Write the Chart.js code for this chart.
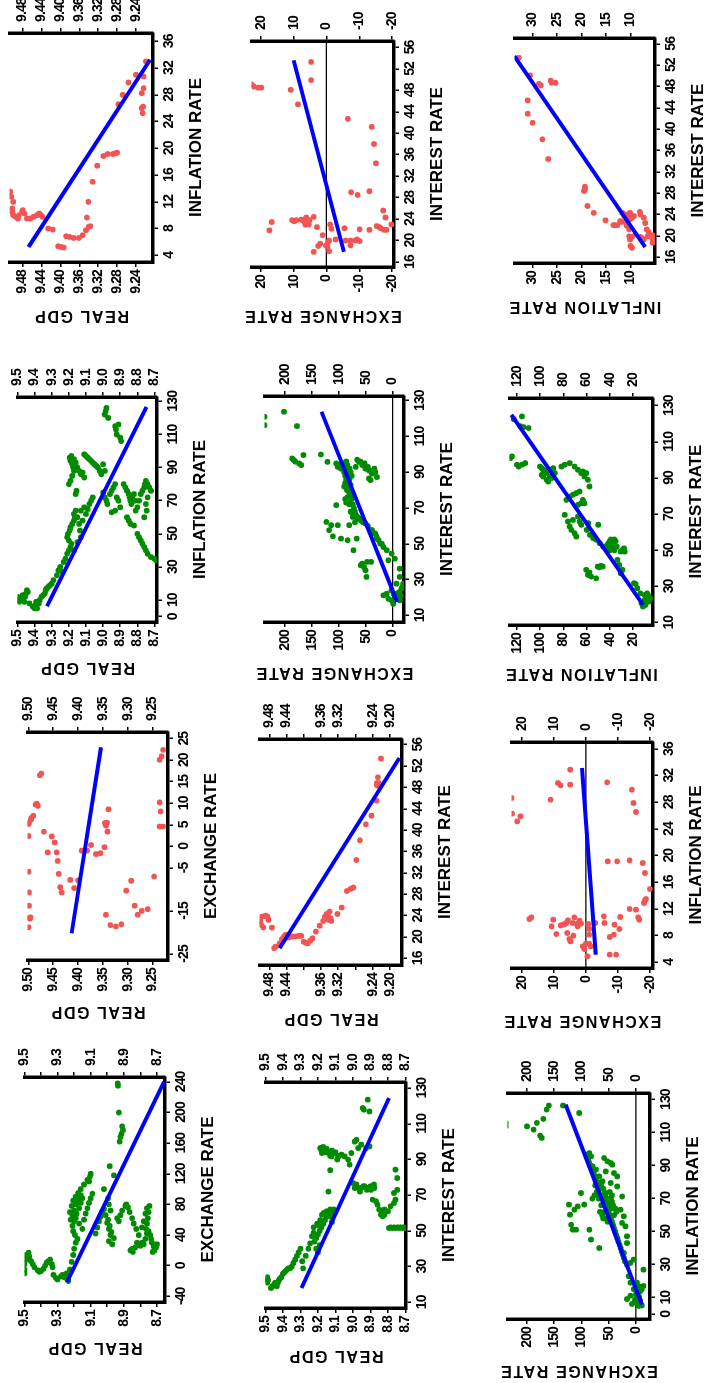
<!DOCTYPE html>
<html>
<head>
<meta charset="utf-8">
<script src="https://cdn.jsdelivr.net/npm/chart.js@4.4.1/dist/chart.umd.min.js"></script>
<style>
  html, body { margin: 0; padding: 0; background: #fff; overflow: hidden; }
  #page { position: absolute; left: 0; top: 0; width: 1383px; height: 707px;
          transform-origin: 0 0; transform: translateY(1383px) rotate(-90deg); background: #fff; }
  #page canvas { position: absolute; }
</style>
</head>
<body>
<div id="page"></div>
<script>
// ---- data: [x, y] pairs per panel ----

// real GDP vs exchange rate (long sample)
const gdpExrLong = [[-10,9.5],[-5,9.5],[2,9.5],[8,9.49],[14,9.49],[17,9.475],[12,9.47],[6,9.46],[2,9.45],[-2,9.44],[-6,9.42],[-8,9.41],[-7,9.40],[-4,9.385],[0,9.375],[4,9.365],[6,9.355],[8,9.345],[2,9.335],[-2,9.33],[-12,9.325],[-16,9.31],[-18,9.30],[-14,9.28],[-12,9.27],[-15,9.26],[-10,9.245],[-20,9.235],[-18,9.24],
  [-5,9.225],[5,9.215],[14,9.205],[22,9.2],[30,9.19],[35,9.18],[40,9.195],[45,9.205],[52,9.21],[58,9.2],[62,9.19],[68,9.185],[75,9.17],[82,9.16],[88,9.15],[92,9.16],[86,9.175],[80,9.19],[72,9.2],[66,9.21],[60,9.22],[70,9.225],[78,9.215],[85,9.205],[90,9.19],[95,9.175],[100,9.16],[106,9.14],[112,9.12],[116,9.105],[120,9.1],[110,9.11],[55,9.17],[48,9.15],[60,9.14],[68,9.13],[75,9.12],[82,9.11],[88,9.10],[94,9.09],
  [42,9.07],[50,9.06],[58,9.05],[64,9.04],[70,9.03],[74,9.02],[66,9.01],[56,9.0],[48,8.99],[40,8.98],[32,8.99],[28,8.97],[36,8.96],[44,8.975],[52,8.985],[60,8.995],[72,8.98],[80,8.99],[88,8.995],[100,9.02],[118,8.96],[130,8.985],
  [162,8.925],[168,8.92],[172,8.915],[177,8.905],[182,8.91],[200,8.93],[235,8.935],[238,8.937],
  [62,8.94],[58,8.93],[66,8.92],[72,8.91],[78,8.89],[80,8.885],[76,8.875],[70,8.865],[62,8.85],[55,8.84],[48,8.825],[40,8.81],[30,8.82],[24,8.83],[18,8.845],[20,8.86],[22,8.85],[26,8.8],[30,8.79],[28,8.78],[35,8.77],[42,8.76],[48,8.765],[55,8.76],[62,8.755],[70,8.75],[78,8.745],[75,8.76],[68,8.77],[58,8.78],[50,8.79],[45,8.75],[40,8.74],[35,8.735],[30,8.73],[25,8.72],[20,8.715],[18,8.725],[24,8.705],[28,8.7]];
const gdpExrLongFitX = [-21.3, 240];
const gdpExrLongFitY = [9.243, 8.657];

// real GDP vs exchange rate (short sample)
const gdpExrShort = [[-18.8,9.50],[-16.6,9.499],[-16.8,9.497],[-16.5,9.496],[-13.8,9.499],[-10.7,9.499],[-5.9,9.50],[2.4,9.50],[5.2,9.50],[5.5,9.499],[6.2,9.495],[6.6,9.494],[7.1,9.49],[9.7,9.4855],[9.9,9.483],[9.4,9.481],[16.5,9.477],[16.9,9.474],[3.4,9.469],[-1.4,9.461],[2.3,9.453],[0.9,9.447],[-1.4,9.443],[-3.4,9.441],[-6.4,9.439],[-9.5,9.436],[-10.7,9.433],[-7.8,9.416],[-9.7,9.408],[-7.9,9.40],[-1.0,9.393],[-1.0,9.382],[0.3,9.374],[-1.8,9.364],[-1.6,9.355],[-0.2,9.347],[4.8,9.344],[5.4,9.346],[5.5,9.342],[3.4,9.341],[8.6,9.339],[-15.9,9.344],[-18.3,9.335],[-18.6,9.324],[-18.1,9.313],[-10.3,9.303],[-8.0,9.293],[-13.8,9.286],[-15.9,9.28],[-15.0,9.272],[-14.6,9.26],[-7.0,9.247],[4.6,9.236],[4.6,9.229],[8.1,9.234],[10.2,9.236],[20.1,9.236],[20.9,9.232],[22.4,9.229]];
const gdpExrShortFitX = [-20.2, 23.0];
const gdpExrShortFitY = [9.413, 9.354];

// real GDP vs inflation rate (long sample)
const gdpInfLong = [[10,9.5],[12,9.5],[9,9.49],[11,9.48],[13,9.47],[9,9.46],[12,9.455],[14,9.45],[16,9.445],[15,9.44],[8,9.43],[6,9.41],[5,9.40],[7,9.395],[9,9.39],[5,9.385],[8,9.375],[10,9.37],[12,9.36],[13,9.35],[14,9.34],[16,9.335],[17,9.33],[18,9.32],[19,9.31],[20,9.30],[22,9.29],[25,9.27],[28,9.26],[30,9.25],[27,9.24],[33,9.23],[35,9.22],[38,9.21],[40,9.2],[42,9.19],[44,9.185],[46,9.2],[48,9.21],[50,9.205],[52,9.195],[54,9.19],[56,9.18],[58,9.17],[60,9.165],[62,9.17],[64,9.16],[60,9.15],[56,9.14],[52,9.135],[48,9.13],[45,9.15],[40,9.17],[58,9.12],[62,9.10],[65,9.09],[68,9.08],[70,9.07],[72,9.06],[66,9.11],[64,9.13],
  [80,9.2],[82,9.19],[85,9.18],[88,9.17],[90,9.175],[92,9.18],[94,9.19],[96,9.195],[97,9.185],[95,9.17],[93,9.16],[90,9.15],[88,9.14],[86,9.13],[87,9.12],[84,9.11],[76,9.155],[74,9.16],
  [98,9.11],[97,9.10],[96,9.09],[95,9.08],[94,9.07],[93,9.06],[92,9.05],[91,9.04],[90,9.03],[88,9.02],[86,9.01],[92,9.0],[88,8.99],
  [75,9.0],[72,8.99],[70,8.98],[68,8.975],[74,8.96],[76,8.95],[78,8.94],[80,8.93],[72,8.92],[70,8.91],[66,8.90],[64,8.93],[63,8.95],
  [122,8.99],[124,8.985],[126,8.98],[120,8.97],[115,8.93],[113,8.925],[110,8.92],[108,8.9],[106,8.895],[116,8.91],
  [80,8.88],[78,8.87],[76,8.86],[74,8.85],[72,8.845],[70,8.84],[68,8.835],[72,8.83],[74,8.82],[70,8.815],[60,8.86],[58,8.85],[56,8.84],[55,8.82],[64,8.81],[66,8.80],[70,8.79],[74,8.78],[76,8.77],[78,8.76],[80,8.755],[82,8.75],[80,8.74],[78,8.73],[76,8.72],[72,8.74],[68,8.75],[64,8.745],[60,8.76],[50,8.8],[48,8.79],[46,8.78],[44,8.77],[42,8.76],[40,8.75],[38,8.74],[36,8.72],[35,8.70],[34,8.69]];
const gdpInfLongFitX = [6.3, 126.6];
const gdpInfLongFitY = [9.327, 8.746];

// real GDP vs inflation rate (short sample)
const gdpInfShort = [[13.5,9.506],[12.75,9.504],[12.0,9.50],[11.0,9.502],[10.5,9.502],[10.0,9.50],[9.75,9.495],[9.5,9.49],[10.0,9.488],[10.5,9.481],[10.75,9.48],[10.25,9.476],[9.5,9.471],[9.5,9.464],[9.75,9.457],[10.0,9.45],[10.25,9.445],[10.0,9.441],[9.75,9.438],[8.0,9.426],[7.85,9.416],[5.35,9.405],[5.25,9.398],[5.15,9.393],[6.85,9.388],[6.75,9.381],[6.6,9.372],[6.6,9.361],[7.0,9.353],[7.75,9.346],[9.65,9.344],[12.0,9.341],[8.25,9.34],[8.35,9.337],[15.0,9.332],[17.4,9.322],[18.85,9.309],[19.15,9.30],[19.15,9.289],[19.25,9.284],[19.35,9.28],[26.6,9.277],[28.0,9.268],[29.85,9.256],[31.0,9.24],[26.0,9.228],[25.25,9.226],[26.25,9.225],[28.25,9.228],[30.75,9.224],[29.0,9.224],[33.0,9.219]];
const gdpInfShortFitX = [5.25, 33.25];
const gdpInfShortFitY = [9.4675, 9.21];

// real GDP vs interest rate (long sample)
const gdpIntLong = [[22,9.50],[23,9.495],[24,9.49],[22.5,9.485],[21,9.49],
  [18,9.468],[19,9.46],[20,9.45],[21,9.445],[20,9.44],[19,9.435],[21,9.43],[22,9.425],[23,9.42],[24,9.41],[26,9.40],[27,9.39],[28,9.38],[29,9.37],[29,9.36],[30,9.35],[32,9.34],[34,9.33],[36,9.32],[38,9.31],[40,9.30],[33,9.29],[29,9.285],[36,9.27],[40,9.255],[43,9.245],[47,9.235],[49,9.225],[52,9.225],[54,9.205],[53,9.197],[56,9.187],[59,9.178],[60,9.168],[61,9.15],[72,9.14],[55,9.12],[84,9.13],[44,9.22],[46,9.21],[48,9.2],[50,9.19],[52,9.18],[38,9.2],[40,9.21],[42,9.19],[54,9.17],[56,9.16],[58,9.15],[60,9.14],[62,9.13],[60,9.12],[62,9.11],[58,9.13],
  [96.4,9.187],[93.6,9.178],[95.5,9.159],[93.6,9.14],[91.7,9.122],[93.6,9.103],[91.7,9.084],[92.7,9.066],[91.7,9.047],[89.9,9.028],[87.1,9.019],[93.6,9.009],[100,8.99],[101,8.98],[96.4,8.97],[98.3,8.953],[96.4,8.925],[97.3,8.906],[95,9.18],[97,9.17],[94,9.16],[96,9.15],[92,9.13],[95,9.12],[94,9.1],[90,9.09],[92,9.08],
  [118.8,8.944],[117.9,8.938],[123.5,8.916],[116.9,8.906],
  [76.8,9.0],[74,8.99],[74,8.97],[74,8.953],[75,8.934],[74,8.916],[73,8.897],[74,8.878],[67.5,8.888],[66.6,8.869],[64.7,8.86],[61.9,8.85],[59.1,8.84],[58.2,8.83],[59.1,8.82],[61,8.80],[63.8,8.785],[65.6,8.766],[67.5,8.757],[71.2,8.766],[73,8.747],[79.6,8.747],[84.3,8.757],[76,8.98],[72,8.96],[75,8.94],[73,8.92],[75,8.9],[76,8.88],[60,8.83],[62,8.82],
  [51.6,8.794],[51.6,8.775],[51.6,8.757],[51.6,8.738],[51.6,8.72],[51.6,8.70],[52,8.785],[52,8.765],[52,8.745],[52,8.728],[52,8.71]];
const gdpIntLongFitX = [18.0, 124.4];
const gdpIntLongFitY = [9.294, 8.794];

// real GDP vs interest rate (short sample)
const gdpIntShort = [[22.9,9.501],[22.25,9.499],[21.8,9.494],[23.8,9.497],[23.9,9.491],[24.0,9.488],[23.8,9.484],[23.2,9.482],[21.75,9.474],[17.9,9.469],[18.2,9.465],[18.8,9.456],[19.6,9.451],[20.1,9.446],[20.4,9.442],[20.1,9.438],[19.9,9.435],[20.1,9.427],[20.1,9.419],[20.2,9.412],[20.2,9.406],[19.1,9.40],[18.9,9.395],[18.8,9.391],[19.3,9.385],[19.75,9.38],[21.0,9.372],[22.1,9.363],[23.0,9.355],[23.8,9.351],[24.3,9.347],[23.9,9.344],[23.2,9.342],[23.5,9.338],[24.75,9.34],[23.0,9.336],[24.3,9.322],[25.5,9.312],[28.6,9.30],[29.0,9.291],[29.25,9.285],[34.4,9.278],[38.1,9.27],[41.1,9.256],[42.7,9.243],[45.5,9.231],[48.3,9.228],[48.5,9.231],[48.8,9.23],[48.8,9.226],[49.9,9.228],[53.4,9.221]];
const gdpIntShortFitX = [17.9, 53.5];
const gdpIntShortFitY = [9.456, 9.178];

// exchange rate vs interest rate (long sample)
const exrIntLong = [[121,238],[116.3,238],[123.8,201.8],[115.8,177.6],[97.7,186.7],[96.8,183.6],[95.9,180.6],[94.9,173.3],[94.0,169.7],[99.6,165.5],[99.9,133.3],[95.8,121],[94.9,104.8],[93.0,101.8],[94,98.8],[92,95.8],
  [90,90],[88,88],[86,86],[84,84],[82,82],[80,85],[78,80],[76,84],[74,82],[72,80],[73,86],[75,88],[77,78],[79,76],[81,80],[83,78],[85,82],[87,84],[89,86],[91,88],[93,92],[95,90],[96,86],[94,84],[92,80],[90,78],[88,76],[86,80],[84,88],[82,90],[75,76],[72,74],[70,72],[68,70],[66,68],[64,66],[62,70],[65,74],[68,78],
  [93,68.5],[95.8,62.4],[94,56.4],[92,50.3],[91,44],[89.2,38.2],[90.1,32],[87.3,29],[86.5,44],[85.6,41],[96,60],[97,66],[95,52],[93,46],[92,34],
  [62.2,123],[57.6,118],[60.4,114],[54.2,111],[60.4,101.8],[71.6,104.8],[52.9,95.8],[52,83.6],[60.4,80.6],[67.8,77.6],[46.4,72.7],[52.9,66.7],[38,59.4],[38.9,56.4],[37,53.3],[35.2,50.3],[31.5,48.5],[39.9,47.3],[39.9,40],
  [66,71.5],[63.2,59.4],[61.3,50.3],[57.6,38.2],[55.7,32],[52.9,29],[50.1,23],[48.2,17],[46.4,11],[40.8,7.9],[44.5,1.8],[58,42],[60,46],[56,36],[54,30],[52,26],[50,20],[62,55],[64,60],[65,65],
  [41.7,-4.2],[36.1,-13.3],[31.5,-13.3],[27.7,-7.3],[22.1,-7.3],[24.9,-16.4],[27.7,-19.4],[22.1,10.9],[21.2,17],[19.3,7.9],[18.4,1.8],[16.5,-1.2],[19.3,-10.3],[18.4,-13.3],[20,-5],[22,-2],[24,2],[23,-12],[21,-15],[26,-18]];
const exrIntLongFitX = [17.5, 123.8];
const exrIntLongFitY = [-8.5, 132];

// exchange rate vs interest rate (short sample)
const exrIntShort = [[49.1,22.9],[48.7,22.2],[48.5,20.9],[48.5,19.9],[21.9,17.4],[23.45,16.7],[48.1,10.9],[23.8,10.5],[23.6,9.9],[23.8,9.2],[23.9,7.7],[23.8,7.2],[23.5,6.7],[24.3,6.2],[23.5,5.9],[23.1,5.7],[23.0,5.4],[23.8,5.2],[22.95,6.4],[45.4,8.7],[53.3,4.7],[49.9,4.7],[24.4,3.9],[17.9,3.9],[22.5,2.9],[19.0,2.5],[19.4,1.9],[21.0,1.2],[19.1,0.2],[18.8,-0.3],[19.7,-0.5],[20.0,-0.8],[18.0,-0.8],[23.0,-1.1],[22.2,-1.5],[20.2,-2.8],[22.3,-5.5],[20.0,-5.8],[19.1,-7.3],[20.0,-7.3],[20.0,-8.8],[20.2,-9.3],[19.9,-10.1],[22.1,-10.1],[29.0,-7.5],[42.7,-6.5],[28.5,-9.5],[29.2,-13.1],[22.0,-13.1],[41.2,-13.8],[38.0,-14.5],[34.4,-15.1],[22.7,-15.3],[22.5,-16.1],[22.3,-16.5],[25.6,-17.3],[24.3,-18.0],[22.0,-17.5],[22.0,-18.3],[23.0,-19.8]];
const exrIntShortFitX = [17.9, 53.6];
const exrIntShortFitY = [-5.3, 10];

// exchange rate vs inflation rate (long sample)
const exrInfLong = [[113.8,239],[115.9,239],[113.8,200],[111.8,188],[115.9,182],[108.2,176],[106.8,173],[118.3,170],[124,164],[126.4,160],[126.4,134],[121.9,104],[66.4,123],[60.3,121],[54.2,119],[51.2,116],[63.3,113],[51.2,110],[65.3,107],[73.4,101],[66.4,95],[51.2,85.5],[45.2,82.5],[40.1,67.5],
  [96.7,92],[94.6,89],[97.6,85.5],[95.6,82.5],[89.6,79.5],[87.6,73.5],[83.5,67.5],[80.5,61.4],
  [78,75],[75,70],[72,66],[70,62],[68,58],[66,55],[64,52],[62,50],[60,48],[58,46],[56,44],[54,42],[52,40],[50,38],[48,36],[46,34],[44,32],[42,30],[40,28],[38,26],[36,24],[34,22],[32,20],[70,80],[72,76],[74,72],[76,68],[78,64],[80,70],[82,74],[84,76],[86,78],[88,80],[90,84],[92,86],[94,88],[62,58],[60,62],[58,56],[56,52],[64,46],[66,48],[68,50],[70,52],[72,56],[74,58],[76,60],[60,40],[62,36],[64,38],[66,42],[68,44],[70,46],[72,44],[74,48],[70,68],[66,64],[62,66],[58,60],
  [94.6,58.4],[92.6,52.4],[91.6,46.4],[90.6,43.4],[86.5,55.4],[85.5,40.4],[83.5,34.3],
  [79.5,46.4],[77.4,34.3],[71.3,25.3],[63.3,28.3],[59.3,22.3],[55.3,25.3],[53.2,19.3],[47.2,16.3],
  [30,16.3],[23,13.3],[19.1,10.2],[15.2,4.2],[13.2,-1.8],[11.2,-4.8],[8.2,-7.8],[5.3,-10.8],[9.2,1.2],[6.2,7.2],[9.2,16.3],[11.2,10.2],[19.1,-1.8],[17.1,-4.8],[15.2,-10.8],[17.1,-13.9],[27.0,-13.9],[33.1,4.2],[31.1,10.2],[43.1,16.3],[37.1,22.3],[7,-2],[8,2],[10,-6],[12,0],[14,-8],[5,-5]];
const exrInfLongFitX = [5.8, 127];
const exrInfLongFitY = [-10.8, 129];

// exchange rate vs inflation rate (short sample)
const exrInfShort = [[28.65,23.2],[26.3,23],[25.9,20.4],[25.15,21.4],[28.4,11.0],[30.9,8.7],[30.55,7.9],[32.9,4.9],[30.65,4.9],[31.0,-6.6],[29.9,-14.3],[27.9,-14.8],[26.55,-15.6],[10.5,17.6],[10.75,17.0],[9.4,10.7],[10.4,10.2],[8.25,9.2],[9.55,7.9],[9.65,7.1],[9.75,6.6],[9.9,6.1],[8.4,5.8],[10.3,5.6],[7.5,5.1],[7.15,4.8],[9.9,4.1],[8.0,3.9],[10.75,3.6],[9.75,2.8],[9.4,2.6],[10.25,2.0],[9.8,1.5],[6.4,1.0],[6.0,0.5],[6.8,0],[6.8,-1.0],[8.15,-1.0],[4.9,-0.5],[9.0,-1.0],[9.75,-0.7],[6.4,-1.5],[9.9,-2.9],[10.9,-5.6],[9.9,-5.8],[7.8,-7.4],[8.15,-8.7],[9.65,-8.9],[5.15,-7.4],[5.15,-9.4],[9.0,-10.4],[10.8,-10.7],[19.15,-6.8],[19.15,-9.7],[19.3,-13.6],[12.0,-13.6],[11.9,-15.6],[10.75,-16.3],[10.4,-16.6],[18.9,-17.7],[17.4,-18.4],[12.9,-18.1],[13.3,-18.4],[13.5,-18.7],[15.0,-19.9]];
const exrInfShortFitX = [5.15, 33.15];
const exrInfShortFitY = [-3.06, 1.2];

// inflation rate vs interest rate (long sample)
const infIntLong = [[20.7,12.8],[22.5,9.9],[24.4,8.5],[25.3,7.1],[21.6,6.3],[18.9,11.4],[19.8,9.2],[26.2,7.8],[23.5,5.0],[25.3,9.9],[26.2,13.6],[29.0,16.3],[31.4,17.7],[31.8,19.1],
  [34.5,51.8],[39.2,60.3],[36.4,58.9],[37.7,57.5],[35.5,56.1],[41,50.4],[40.6,49.0],[41.4,47.6],[41.0,46.1],
  [37.3,30.5],[41.9,31.9],[44.7,33.4],[39.2,29.1],[49.3,30.5],[50.2,29.1],[51.1,27.7],[49.3,27.1],
  [50,36],[51,38],[52,40],[53,42],[54,38],[55,40],[56,36],[52,34],[53,36],[54,41],[51,42],[55,35],[56,39],[50,40],
  [61.3,59.9],[58.5,57.1],[56.7,54.3],[55.8,51.4],[53.9,48.6],[52.1,45.7],[65,58.5],[64.1,49.9],
  [65.9,76],[63.1,74.5],[61.3,73.1],[59.4,70.3],[57.6,68.9],[68.7,67.4],[65.9,66.0],[64.1,64.6],[66.8,71.7],[69.6,78.8],
  [77.9,77.4],[79.7,74.5],[80.7,71.7],[81.6,68.9],[82.5,66.0],[76.0,64.6],[76,61.8],[75.1,67.4],[77.9,63.2],
  [96.3,100.1],[95.4,98.7],[94.5,97.3],[93.6,95.9],[92.7,94.4],[91.7,98.7],[90.8,97.3],[89.0,94.4],[88.0,93.0],[90.8,91.6],[94.5,90.2],[95.4,88.8],[92.7,87.3],[89.9,90.2],
  [96.3,81.6],[97.3,78.8],[98.2,74.5],[96.3,70.3],[94.5,67.4],[92.7,64.6],[90.8,61.8],[93.6,63.2],[92.7,60.3],[89.0,58.9],[85.3,57.5],
  [101,125.7],[101.9,124.3],[97.3,115.7],[98.2,112.9],[97.3,120],[96.3,118.6],
  [122.5,122.8],[124,115.7],[118.6,117.2],[117.6,110.0],[118.1,114.3]];
const infIntLongFitX = [19.8, 124.9];
const infIntLongFitY = [11.2, 124.8];

// inflation rate vs interest rate (short sample)
const infIntShort = [[53.4,32.8],[50.1,30.5],[48.5,28.7],[48.2,28.3],[49.1,26.3],[48.7,26.1],[48.7,25.3],[45.4,31.0],[42.9,31.0],[41.2,30.0],[38.1,28.0],[34.4,26.8],[29.2,19.3],[28.7,19.3],[28.4,19.5],[25.6,18.8],[24.3,17.5],[22.9,15.1],[22.0,13.5],[22.0,13.2],[22.0,12.7],[22.75,12.1],[22.6,11.9],[24.3,11.7],[23.7,11.3],[24.0,11.0],[23.7,10.7],[23.4,10.3],[23.1,10.1],[23.7,10.0],[23.4,9.7],[23.7,9.3],[22.4,10.7],[22.6,11.2],[21.2,10.3],[21.9,10.8],[24.3,10.1],[24.5,8.1],[24.0,8.0],[23.4,7.3],[22.4,7.0],[21.2,6.7],[19.9,6.5],[20.7,6.3],[19.9,10.3],[19.3,10.1],[19.8,9.7],[20.25,9.0],[18.1,10.0],[17.75,9.7],[19.8,8.0],[19.6,7.7],[19.3,7.3],[20.1,5.5],[19.3,5.5],[18.7,5.5]];
const infIntShortFitX = [17.9, 53.7];
const infIntShortFitY = [7.0, 33.7];

// tick values
const gdpTicksTenth = [8.7, 8.8, 8.9, 9.0, 9.1, 9.2, 9.3, 9.4, 9.5];
const gdpTicksTenthOdd = [8.7, 8.9, 9.1, 9.3, 9.5];
const gdpTicksShortA = [9.25, 9.30, 9.35, 9.40, 9.45, 9.50];
const gdpTicksShortB = [9.24, 9.28, 9.32, 9.36, 9.40, 9.44, 9.48];
const gdpTicksShortC = [9.20, 9.24, 9.28, 9.32, 9.36, 9.40, 9.44, 9.48];
const gdpTicksShortCLabels = [9.20, 9.24, 9.32, 9.36, 9.44, 9.48];
const exrTicksLong = [0, 50, 100, 150, 200];
const exrTicksShort = [-20, -10, 0, 10, 20];
const infTicksLongY = [20, 40, 60, 80, 100, 120];
const infTicksShortY = [10, 15, 20, 25, 30];
const exrTicksLongX = [-40, 0, 40, 80, 120, 160, 200, 240];
const exrTicksShortX = [-25, -15, -5, 0, 5, 10, 15, 20, 25];
const rateTicksLongX = [0, 10, 30, 50, 70, 90, 110, 130];
const intTicksLongX = [10, 30, 50, 70, 90, 110, 130];
const infTicksShortX = [4, 8, 12, 16, 20, 24, 28, 32, 36];
const intTicksShortX = [16, 20, 24, 28, 32, 36, 40, 44, 48, 52, 56];

// ---- panels (landscape frame, later turned a quarter left) ----
const GREEN = '#008b00';
const RED = '#f25454';
const panels = [
  { pts: gdpExrLong, fx: gdpExrLongFitX, fy: gdpExrLongFitY, color: GREEN, rect: [81, 22, 306, 165], ygap: 45,
    xr: [-47.4, 246.4], yr: [8.651, 9.5], xt: exrTicksLongX, yt: gdpTicksTenth, yl: gdpTicksTenthOdd, yd: 1, xTitle: 'EXCHANGE RATE', yTitle: 'REAL GDP' },
  { pts: gdpExrShort, fx: gdpExrShortFitX, fy: gdpExrShortFitY, color: RED, rect: [423, 25, 651, 168], ygap: 51,
    xr: [-26.4, 26.55], yr: [9.219, 9.502], xt: exrTicksShortX, yt: gdpTicksShortA, yd: 2, xTitle: 'EXCHANGE RATE', yTitle: 'REAL GDP' },
  { pts: gdpInfLong, fx: gdpInfLongFitX, fy: gdpInfLongFitY, color: GREEN, rect: [761, 15, 986, 157], ygap: 45,
    xr: [-3.2, 132.6], yr: [8.685, 9.5], xt: rateTicksLongX, yt: gdpTicksTenth, yd: 1, xTitle: 'INFLATION RATE', yTitle: 'REAL GDP' },
  { pts: gdpInfShort, fx: gdpInfShortFitX, fy: gdpInfShortFitY, color: RED, rect: [1121, 7, 1350, 153], ygap: 53,
    xr: [3.0, 37.25], yr: [9.204, 9.508], xt: infTicksShortX, yt: gdpTicksShortB, yd: 2, xTitle: 'INFLATION RATE', yTitle: 'REAL GDP' },
  { pts: gdpIntLong, fx: gdpIntLongFitX, fy: gdpIntLongFitY, color: GREEN, rect: [75, 263, 301, 406], ygap: 47,
    xr: [6.8, 133.4], yr: [8.697, 9.5], xt: intTicksLongX, yt: gdpTicksTenth, yd: 1, xTitle: 'INTEREST RATE', yTitle: 'REAL GDP' },
  { pts: gdpIntShort, fx: gdpIntShortFitX, fy: gdpIntShortFitY, color: RED, rect: [418, 257, 644, 402], ygap: 53,
    xr: [14.75, 57.06], yr: [9.172, 9.503], xt: intTicksShortX, yt: gdpTicksShortC, yl: gdpTicksShortCLabels, yd: 2, xTitle: 'INTEREST RATE', yTitle: 'REAL GDP' },
  { pts: exrIntLong, fx: exrIntLongFitX, fy: exrIntLongFitY, color: GREEN, rect: [761, 262, 987, 404], ygap: 50, zero: true,
    xr: [6.3, 132.6], yr: [-21.2, 238], xt: intTicksLongX, yt: exrTicksLong, yd: 0, xTitle: 'INTEREST RATE', yTitle: 'EXCHANGE RATE' },
  { pts: exrIntShort, fx: exrIntShortFitX, fy: exrIntShortFitY, color: RED, rect: [1116, 249, 1342, 394], ygap: 48, zero: true,
    xr: [15.07, 57.2], yr: [-20.6, 22.9], xt: intTicksShortX, yt: exrTicksShort, yd: 0, xTitle: 'INTEREST RATE', yTitle: 'EXCHANGE RATE' },
  { pts: exrInfLong, fx: exrInfLongFitX, fy: exrInfLongFitY, color: GREEN, rect: [64, 505, 290, 650], ygap: 51, zero: true,
    xr: [-2.9, 134], yr: [-25.9, 236], xt: rateTicksLongX, yt: exrTicksLong, yd: 0, xTitle: 'INFLATION RATE', yTitle: 'EXCHANGE RATE' },
  { pts: exrInfShort, fx: exrInfShortFitX, fy: exrInfShortFitY, color: RED, rect: [415, 509, 641, 653], ygap: 52, zero: true,
    xr: [3.15, 37.05], yr: [-20.9, 23.2], xt: infTicksShortX, yt: exrTicksShort, yd: 0, xTitle: 'INFLATION RATE', yTitle: 'EXCHANGE RATE' },
  { pts: infIntLong, fx: infIntLongFitX, fy: infIntLongFitY, color: GREEN, rect: [758, 507, 985, 653], ygap: 48,
    xr: [8.7, 134.2], yr: [2.7, 126.5], xt: intTicksLongX, yt: infTicksLongY, yd: 0, xTitle: 'INTEREST RATE', yTitle: 'INFLATION RATE' },
  { pts: infIntShort, fx: infIntShortFitX, fy: infIntShortFitY, color: RED, rect: [1120, 512, 1345, 655], ygap: 43,
    xr: [14.9, 57.1], yr: [5.0, 33.7], xt: intTicksShortX, yt: infTicksShortY, yd: 0, xTitle: 'INTEREST RATE', yTitle: 'INFLATION RATE' }
];

// narrow face for tick labels if the system has one
function hasFont(name) {
  const c = document.createElement('canvas').getContext('2d');
  c.font = 'bold 40px monospace';
  const a = c.measureText('0123456789 EXCHANGE').width;
  c.font = 'bold 40px "' + name + '", monospace';
  return c.measureText('0123456789 EXCHANGE').width !== a;
}
const NARROW = hasFont('Liberation Sans Narrow');
const tickFont = NARROW
  ? { family: '"Liberation Sans Narrow", "Liberation Sans", Arial, sans-serif', size: 15, weight: 'bold' }
  : { family: '"Liberation Sans", Arial, sans-serif', size: 14, weight: 'bold' };
const TICK_SPACING = NARROW ? '0px' : '-0.9px';

Chart.defaults.font.family = '"Liberation Sans", Arial, sans-serif';
Chart.defaults.color = '#000';

const PAD = { left: 64, right: 52, top: 12, bottom: 62 };
const X_TITLE_GAP = 43.5;
const page = document.getElementById('page');

function near(list, v) { return list.some(t => Math.abs(t - v) < 1e-6); }

// wrap a scale draw method so its text gets a given letter spacing
function spaced(s, name, spacing) {
  const key = '_sp_' + name;
  if (s[key]) return;
  const orig = s[name];
  s[name] = function () {
    this.ctx.save();
    this.ctx.letterSpacing = spacing;
    orig.apply(this, arguments);
    this.ctx.restore();
  };
  s[key] = true;
}

const gridOpts = { display: true, drawOnChartArea: false, drawTicks: true, tickLength: 5,
  color: '#000', tickColor: '#000', lineWidth: 1.5, tickWidth: 1.5 };

function axisY(p, pos) {
  const labelled = p.yl || p.yt;
  const titleSize = 16;
  return {
    type: 'linear', position: pos, min: p.yr[0], max: p.yr[1],
    afterBuildTicks: s => { s.ticks = p.yt.map(v => ({ value: v })); },
    afterFit: s => {
      s.width = pos === 'left' ? PAD.left : PAD.right;
      spaced(s, 'drawLabels', TICK_SPACING);
      if (pos === 'left') spaced(s, 'drawTitle', '1.6px');
    },
    ticks: { font: tickFont, color: '#000', padding: pos === 'left' ? 3 : 6, autoSkip: false,
      callback: v => near(labelled, v) ? v.toFixed(p.yd) : '' },
    grid: gridOpts,
    border: { display: true, color: '#000', width: 3.5 },
    title: pos === 'left'
      ? { display: true, text: p.yTitle, color: '#000',
          font: { size: titleSize, weight: 'bold' },
          padding: { top: PAD.left - p.ygap - titleSize * 0.6, bottom: 0 } }
      : { display: false }
  };
}

function addPanel(p) {
  const [x0, y0, x1, y1] = p.rect;
  const canvas = document.createElement('canvas');
  canvas.width = x1 - x0 + PAD.left + PAD.right;
  canvas.height = y1 - y0 + PAD.top + PAD.bottom;
  canvas.style.left = (x0 - PAD.left) + 'px';
  canvas.style.top = (y0 - PAD.top) + 'px';
  page.appendChild(canvas);

  const titleSize = 17;
  const datasets = [
    { data: p.fx.map((x, i) => ({ x: x, y: p.fy[i] })), showLine: true, borderColor: '#0000ff',
      borderWidth: 4, pointRadius: 0, clip: 0 },
    { data: p.pts.map(d => ({ x: d[0], y: d[1] })), pointRadius: 2.9, pointHoverRadius: 2.9,
      backgroundColor: p.color, borderColor: p.color, borderWidth: 0, clip: 0 }
  ];
  if (p.zero) {
    datasets.push({ data: [{ x: p.xr[0], y: 0 }, { x: p.xr[1], y: 0 }], showLine: true,
      borderColor: '#000', borderWidth: 1.2, pointRadius: 0, clip: 0 });
  }

  new Chart(canvas, {
    type: 'scatter',
    data: { datasets: datasets },
    options: {
      responsive: false, animation: false, events: [],
      layout: { padding: { top: PAD.top, left: 0, right: 0, bottom: 0 } },
      plugins: { legend: { display: false }, tooltip: { enabled: false } },
      scales: {
        x: {
          type: 'linear', position: 'bottom', min: p.xr[0], max: p.xr[1],
          afterBuildTicks: s => { s.ticks = p.xt.map(v => ({ value: v })); },
          afterFit: s => { s.height = PAD.bottom; spaced(s, 'drawLabels', TICK_SPACING); },
          ticks: { font: tickFont, color: '#000', padding: 3, autoSkip: false, maxRotation: 0, minRotation: 0,
            callback: v => String(v) },
          grid: gridOpts,
          border: { display: true, color: '#000', width: 3.5 },
          title: { display: true, text: p.xTitle, color: '#000', font: { size: titleSize, weight: 'bold' },
            padding: { top: 0, bottom: PAD.bottom - X_TITLE_GAP - titleSize * 0.6 } }
        },
        y: axisY(p, 'left'),
        y2: axisY(p, 'right')
      }
    }
  });
}

panels.forEach(addPanel);
</script>
</body>
</html>
